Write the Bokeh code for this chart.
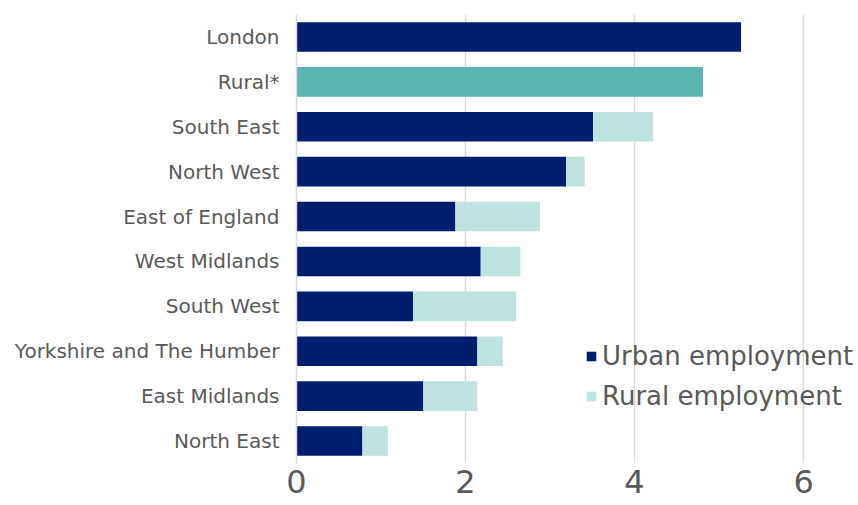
from bokeh.plotting import figure
from bokeh.models import ColumnDataSource, Legend, LegendItem, Range1d, FactorRange
from bokeh.embed import file_html
from bokeh.resources import INLINE

regions = ["London", "Rural*", "South East", "North West", "East of England",
           "West Midlands", "South West", "Yorkshire and The Humber",
           "East Midlands", "North East"]
urban = [5.26, 0.0, 3.51, 3.19, 1.88, 2.18, 1.38, 2.14, 1.50, 0.78]
rural = [0.0, 0.0, 0.71, 0.22, 1.00, 0.47, 1.22, 0.30, 0.64, 0.30]
rural_total = [0.0, 4.81, 0.0, 0.0, 0.0, 0.0, 0.0, 0.0, 0.0, 0.0]
x_ticks = [0, 2, 4, 6]

NAVY = "#001E70"
LIGHT = "#BDE2DF"
MID = "#5BB5B2"
TXT = "#595959"
GRID = "#D9D9D9"
FONT = "DejaVu Sans"

factors = list(reversed(regions))
rural_left = urban[:]
rural_right = [u + r for u, r in zip(urban, rural)]

src = ColumnDataSource(dict(region=regions, urban=urban, zero=[0.0]*len(regions),
                            rl=rural_left, rr=rural_right, rt=rural_total))

p = figure(width=858, height=505, y_range=FactorRange(*factors, range_padding=0),
           x_range=Range1d(0, 6.65), output_backend="svg", toolbar_location=None,
           min_border_left=296, min_border_right=0, min_border_top=14, min_border_bottom=42)
p.outline_line_color = None
p.background_fill_color = "white"

r_urban = p.hbar(y="region", left="zero", right="urban", height=0.66, source=src,
                 fill_color=NAVY, line_color=None)
r_rural = p.hbar(y="region", left="rl", right="rr", height=0.66, source=src,
                 fill_color=LIGHT, line_color=None)
p.hbar(y="region", left="zero", right="rt", height=0.66, source=src,
       fill_color=MID, line_color=None)

p.xgrid.grid_line_color = GRID
p.xgrid.grid_line_width = 1.5
p.ygrid.grid_line_color = None
p.xaxis.ticker = x_ticks
p.xaxis.axis_line_color = None
p.xaxis.major_tick_line_color = None
p.xaxis.minor_tick_line_color = None
p.xaxis.major_label_text_font = FONT
p.xaxis.major_label_text_font_size = "32px"
p.xaxis.major_label_text_color = TXT
p.xaxis.major_label_standoff = 0

p.yaxis.axis_line_color = GRID
p.yaxis.axis_line_width = 1.5
p.yaxis.major_tick_line_color = None
p.yaxis.minor_tick_line_color = None
p.yaxis.major_label_text_font = FONT
p.yaxis.major_label_text_font_size = "20px"
p.yaxis.major_label_text_color = TXT
p.yaxis.major_label_standoff = 11

legend = Legend(items=[LegendItem(label="Urban employment", renderers=[r_urban]),
                       LegendItem(label="Rural employment", renderers=[r_rural])],
                location=(289, 52), orientation="vertical")
legend.background_fill_alpha = 0
legend.border_line_color = None
legend.label_text_font = FONT
legend.label_text_font_size = "26px"
legend.label_text_color = TXT
legend.glyph_width = 12
legend.glyph_height = 12
legend.label_standoff = 5
legend.spacing = 10
legend.padding = 0
legend.margin = 0
p.add_layout(legend)

open("out.html", "w").write(file_html(p, INLINE))
